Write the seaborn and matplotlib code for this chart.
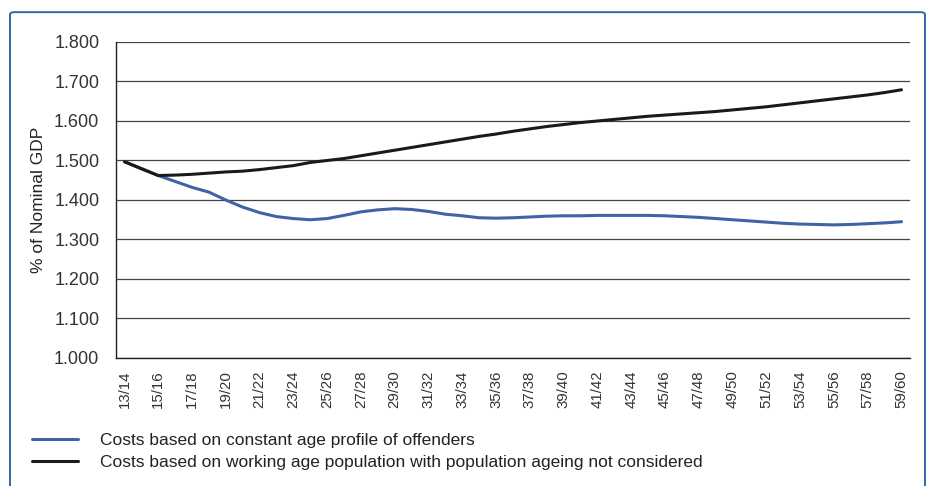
import pandas as pd
import matplotlib
matplotlib.use("Agg")
import matplotlib.pyplot as plt
from matplotlib.patches import FancyBboxPatch
from matplotlib.ticker import FixedLocator, FuncFormatter
import seaborn as sns

## data
years = [f"{y}/{y + 1}" for y in range(13, 60)]

constant_age_profile = [
    1.497, 1.480, 1.462, 1.447, 1.432, 1.420, 1.400, 1.382, 1.368, 1.358,
    1.353, 1.350, 1.353, 1.361, 1.370, 1.375, 1.378, 1.376, 1.371, 1.364,
    1.360, 1.355, 1.354, 1.355, 1.357, 1.359, 1.360, 1.360, 1.361, 1.361,
    1.361, 1.361, 1.360, 1.358, 1.356, 1.353, 1.350, 1.347, 1.344, 1.341,
    1.339, 1.338, 1.337, 1.338, 1.340, 1.342, 1.345,
]
working_age_population = [
    1.497, 1.479, 1.462, 1.463, 1.465, 1.468, 1.471, 1.473, 1.477, 1.482,
    1.487, 1.495, 1.500, 1.505, 1.512, 1.519, 1.526, 1.533, 1.540, 1.547,
    1.554, 1.561, 1.567, 1.574, 1.580, 1.586, 1.591, 1.596, 1.600, 1.604,
    1.608, 1.612, 1.615, 1.618, 1.621, 1.624, 1.628, 1.632, 1.636, 1.641,
    1.646, 1.651, 1.656, 1.661, 1.666, 1.672, 1.679,
]

series_names = [
    "Costs based on constant age profile of offenders",
    "Costs based on working age population with population ageing not considered",
]
series_colors = ["#4062a6", "#1a1a1a"]

df = pd.DataFrame({
    "year": years * 2,
    "pos": list(range(len(years))) * 2,
    "value": constant_age_profile + working_age_population,
    "series": [series_names[0]] * len(years) + [series_names[1]] * len(years),
})

## plot
sns.set_style("white")
plt.rcParams["font.family"] = ["Liberation Sans", "DejaVu Sans"]

fig = plt.figure(figsize=(9.33, 4.86), dpi=100)
ax = fig.add_axes([0.1243, 0.2634, 0.8510, 0.6502])

sns.lineplot(data=df, x="pos", y="value", hue="series",
             palette=dict(zip(series_names, series_colors)),
             linewidth=2.2, ax=ax, legend=False)

# axes limits and grid
ax.set_xlim(-0.5, len(years) - 0.5)
ax.set_ylim(1.0, 1.8)
ax.set_yticks([1.0 + 0.1 * k for k in range(9)])
ax.yaxis.set_major_formatter(FuncFormatter(lambda v, p: f"{v:.3f}"))
ax.grid(axis="y", color="#444444", linewidth=0.9)
ax.grid(axis="x", visible=False)
ax.set_axisbelow(True)

for side in ["top", "right"]:
    ax.spines[side].set_visible(False)
for side in ["left", "bottom"]:
    ax.spines[side].set_color("#222222")
    ax.spines[side].set_linewidth(1.0)

# x labels every second year, tick marks at category boundaries
ax.set_xticks(range(0, len(years), 2))
ax.set_xticklabels(years[::2], rotation=90, fontsize=10.8, color="#333333")
ax.xaxis.set_minor_locator(FixedLocator([k - 0.5 for k in range(len(years) + 1)]))
ax.tick_params(axis="x", which="major", length=0, pad=9)
ax.tick_params(axis="x", which="minor", length=5, width=0.9, color="#222222", direction="out")
ax.tick_params(axis="y", length=6, width=0.9, color="#222222", labelsize=13,
               labelcolor="#333333", pad=6)

ax.set_xlabel("")
ax.set_ylabel("% of Nominal GDP", fontsize=12.5, color="#222222", labelpad=6)

# legend below the chart
handles = [plt.Line2D([], [], color=c, linewidth=2.2) for c in series_colors]
fig.legend(handles, series_names, loc="upper left", bbox_to_anchor=(0.018, 0.142),
           frameon=False, handlelength=2.6, handletextpad=1.27, labelspacing=0.42,
           prop={"family": ["Liberation Sans", "DejaVu Sans"], "size": 12.5},
           labelcolor="#222222")

# frame round the figure
border = FancyBboxPatch((0.0107, -0.1), 0.9807, 1.075, boxstyle="round,pad=0,rounding_size=0.005",
                        transform=fig.transFigure, fill=False, edgecolor="#3565a5",
                        linewidth=1.4)
fig.patches.append(border)

fig.savefig("out.png", dpi=100)
